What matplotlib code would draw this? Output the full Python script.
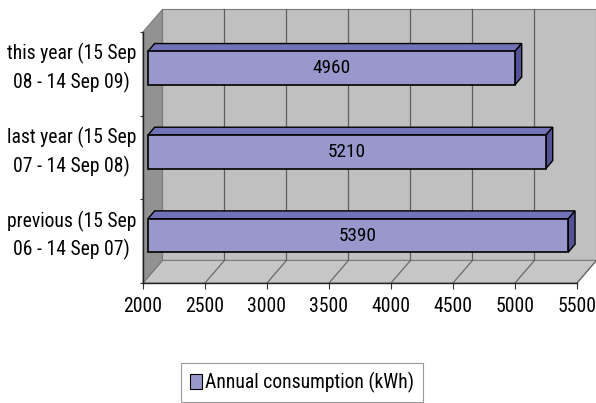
import matplotlib
matplotlib.use("Agg")
import numpy as np
import matplotlib.pyplot as plt
from matplotlib.patches import Polygon
from matplotlib import font_manager

# Chart data
categories = [
    "previous (15 Sep\n06 - 14 Sep 07)",
    "last year (15 Sep\n07 - 14 Sep 08)",
    "this year (15 Sep\n08 - 14 Sep 09)",
]
consumption = [5390, 5210, 4960]
x_ticks = [2000, 2500, 3000, 3500, 4000, 4500, 5000, 5500]
series_name = "Annual consumption (kWh)"

# Prefer a narrow sans face; fall back to the regular one
names = {f.name for f in font_manager.fontManager.ttflist}
family = "Liberation Sans"
for cand in ("Liberation Sans Narrow", "Arial Narrow", "Roboto Condensed",
             "Open Sans Condensed"):
    if cand in names:
        family = cand
        break
plt.rcParams["font.family"] = [family, "DejaVu Sans"]

fig = plt.figure(figsize=(5.96, 4.03), dpi=100)
fig.patch.set_facecolor("white")
renderer = fig.canvas.get_renderer()


def fit_size(text, width_px, base=15.0, cap=17.0):
    """Font size at which `text` spans about `width_px` pixels."""
    t = fig.text(0, 0, text, fontsize=base)
    w = t.get_window_extent(renderer).width
    t.remove()
    return min(cap, base * width_px / w)


cat_size = fit_size("this year (15 Sep", 130)
tick_size = fit_size("2000", 39)
val_size = fit_size("4960", 38)
leg_size = fit_size(series_name, 210)

# axes box = front plane of the 3-D box
ax = fig.add_axes([143 / 596, 1 - 283 / 403, 434 / 596, 251 / 403])
ax.patch.set_visible(False)

x0, x1 = x_ticks[0], x_ticks[-1]
n = len(categories)
ax.set_xlim(x0, x1)
ax.set_ylim(0, n)

DX, DY = 157, 0.27          # depth of the 3-D box in data units
FRONT, BACK = 0.25, 0.6     # depth span of the bars (fraction of box depth)
BAR_H = 0.4

front_c = "#9898cc"
top_c = "#7272b6"
side_c = "#525294"

# walls and floor
wall_kw = dict(closed=True, clip_on=False, lw=0.8, edgecolor="#7a7a7a", zorder=1)
ax.add_patch(Polygon([(x0 + DX, DY), (x1 + DX, DY), (x1 + DX, n + DY), (x0 + DX, n + DY)],
                     facecolor="#c0c0c0", **wall_kw))
ax.add_patch(Polygon([(x0, 0), (x1, 0), (x1 + DX, DY), (x0 + DX, DY)],
                     facecolor="#c6c6c6", **wall_kw))
ax.add_patch(Polygon([(x0, 0), (x0, n), (x0 + DX, n + DY), (x0 + DX, DY)],
                     facecolor="#929292", **wall_kw))

# gridlines on the back wall and across the floor
for x in x_ticks[1:-1]:
    ax.plot([x + DX, x + DX], [DY, n + DY], color="#5e5e5e", lw=0.9, zorder=2, clip_on=False)
for x in x_ticks[1:]:
    ax.plot([x, x + DX], [0, DY], color="#6a6a6a", lw=0.9, zorder=2, clip_on=False)

# bars
ypos = np.arange(n) + 0.5
widths = [v - x0 for v in consumption]
bars = ax.barh(ypos + FRONT * DY, widths, left=x0 + FRONT * DX, height=BAR_H,
               color=front_c, edgecolor="black", linewidth=1.2, zorder=5,
               label=series_name)

for c, v in zip(ypos, consumption):
    yb, yt = c - BAR_H / 2, c + BAR_H / 2
    top = [(x0 + FRONT * DX, yt + FRONT * DY), (v + FRONT * DX, yt + FRONT * DY),
           (v + BACK * DX, yt + BACK * DY), (x0 + BACK * DX, yt + BACK * DY)]
    side = [(v + FRONT * DX, yb + FRONT * DY), (v + FRONT * DX, yt + FRONT * DY),
            (v + BACK * DX, yt + BACK * DY), (v + BACK * DX, yb + BACK * DY)]
    ax.add_patch(Polygon(top, closed=True, facecolor=top_c, edgecolor="black",
                         lw=1.0, zorder=4, clip_on=False))
    ax.add_patch(Polygon(side, closed=True, facecolor=side_c, edgecolor="black",
                         lw=1.0, zorder=4, clip_on=False))
    ax.text((x0 + v) / 2 + FRONT * DX, c + FRONT * DY, str(v), ha="center",
            va="center", fontsize=val_size, color="black", zorder=6)

# axes lines and ticks
for s in ("top", "right"):
    ax.spines[s].set_visible(False)
for s in ("left", "bottom"):
    ax.spines[s].set_color("#222222")
    ax.spines[s].set_linewidth(1.0)
    ax.spines[s].set_zorder(3)

ax.set_xticks(x_ticks)
ax.set_xticklabels([str(t) for t in x_ticks])
ax.tick_params(axis="x", direction="out", length=4, width=0.8, pad=6,
               labelsize=tick_size, color="#333333", labelcolor="black")

ax.set_yticks(np.arange(n + 1))
ax.set_yticklabels([])
ax.set_yticks(ypos + FRONT * DY, minor=True)
ax.set_yticklabels(categories, minor=True)
ax.tick_params(axis="y", which="major", direction="out", length=2.5, width=0.8,
               color="#333333")
ax.tick_params(axis="y", which="minor", length=0, pad=5, labelsize=cat_size,
               labelcolor="black")
for lab in ax.get_yticklabels(minor=True):
    lab.set_multialignment("center")
    lab.set_verticalalignment("center")
    lab.set_linespacing(1.45)

leg = fig.legend(handles=[bars], loc="upper center",
                 bbox_to_anchor=(302 / 596, 1 - 363 / 403), borderaxespad=0,
                 frameon=True, fancybox=False, edgecolor="#808080",
                 fontsize=leg_size, handlelength=0.62, handleheight=0.8,
                 handletextpad=0.15, borderpad=0.45)
leg.get_frame().set_linewidth(0.8)
for p in leg.legend_handles:
    p.set_linewidth(0.8)

fig.savefig("out.png", dpi=100, facecolor="white")
